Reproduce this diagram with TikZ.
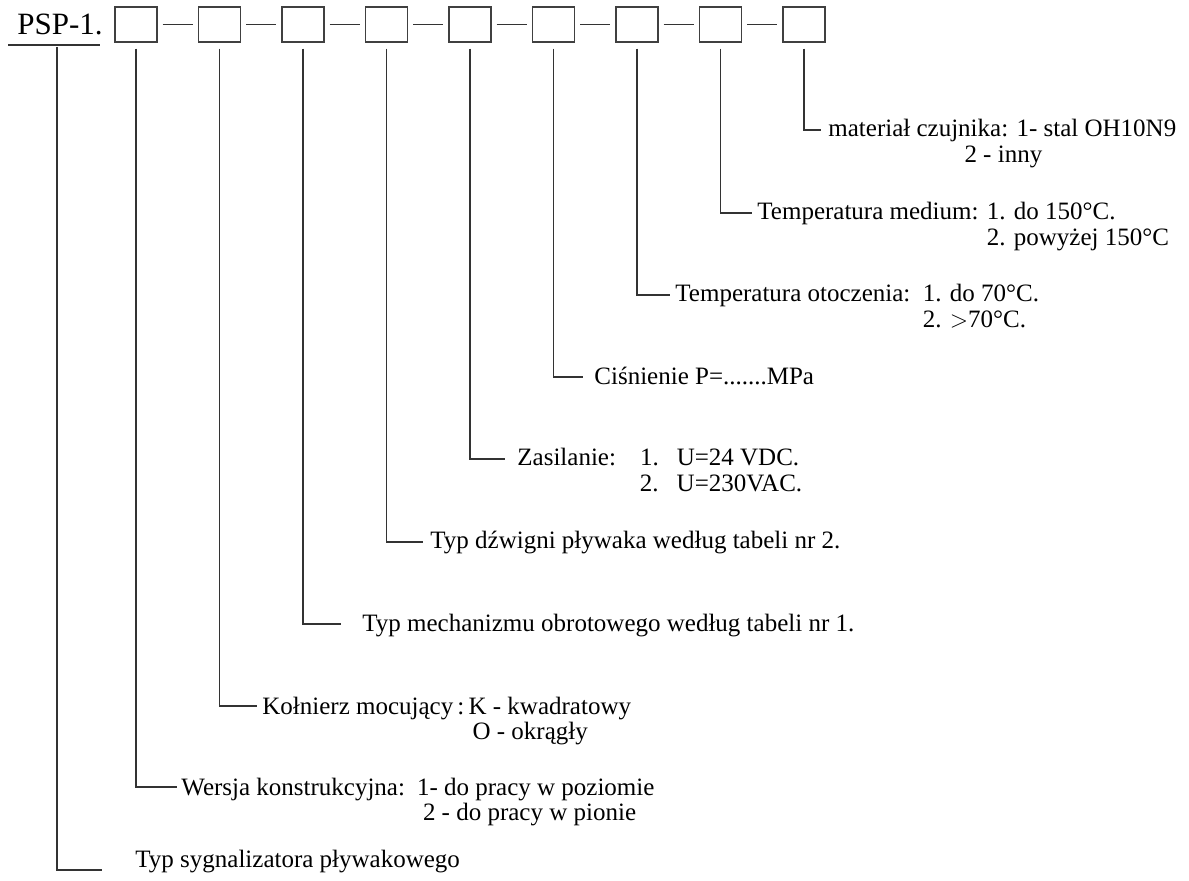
\documentclass[tikz,border=0pt]{standalone}
\usepackage{fontspec}
\setmainfont{Liberation Serif}
\usepackage{tikz}
\usetikzlibrary{positioning}

\begin{document}
\begin{tikzpicture}[
  x=0.5pt, y=-0.5pt,
  font=\fontsize{12.5}{13}\selectfont,
  box/.style={draw=black!75, line width=0.7pt, minimum width=21pt, minimum height=17.5pt, inner sep=0pt},
  lbl/.style={anchor=base west, inner sep=0pt},
  lead/.style={draw=black!80, line width=0.55pt},
  node distance=20.05pt]
\useasboundingbox (0,0) rectangle (1189,881);
% --- code row ---
\node[lbl, font=\fontsize{15.5}{18}\selectfont] (psp) at (17,35) {PSP-1.};
\coordinate (u1) at (8,45);
\coordinate (u2) at (100,45);
\draw[lead] (u1) -- (u2);
\node[box] (b1) at (136,24.5) {};
\node[box, right=of b1] (b2) {};
\node[box, right=of b2] (b3) {};
\node[box, right=of b3] (b4) {};
\node[box, right=of b4] (b5) {};
\node[box, right=of b5] (b6) {};
\node[box, right=of b6] (b7) {};
\node[box, right=of b7] (b8) {};
\node[box, right=of b8] (b9) {};
\draw[lead] ([xshift=2.5pt]b1.east) -- ([xshift=-2.5pt]b2.west);
\draw[lead] ([xshift=2.5pt]b2.east) -- ([xshift=-2.5pt]b3.west);
\draw[lead] ([xshift=2.5pt]b3.east) -- ([xshift=-2.5pt]b4.west);
\draw[lead] ([xshift=2.5pt]b4.east) -- ([xshift=-2.5pt]b5.west);
\draw[lead] ([xshift=2.5pt]b5.east) -- ([xshift=-2.5pt]b6.west);
\draw[lead] ([xshift=2.5pt]b6.east) -- ([xshift=-2.5pt]b7.west);
\draw[lead] ([xshift=2.5pt]b7.east) -- ([xshift=-2.5pt]b8.west);
\draw[lead] ([xshift=2.5pt]b8.east) -- ([xshift=-2.5pt]b9.west);
% --- descriptions ---
\node[lbl] (t9) at (828,137) {materiał czujnika: \begin{tabular}[t]{@{}l@{}}1- stal OH10N9\\\hspace*{-26pt}2 - inny\end{tabular}};
\node[lbl] (t8) at (757,220) {Temperatura medium: \begin{tabular}[t]{@{}l@{}}1. do 150°C.\\2. powyżej 150°C\end{tabular}};
\node[lbl] (t7) at (675,302) {Temperatura otoczenia:\enspace\begin{tabular}[t]{@{}l@{}}1. do 70°C.\\2. $>$70°C.\end{tabular}};
\node[lbl] (t6) at (594,385) {Ciśnienie P=.......MPa};
\node[lbl] (t5) at (517,466) {Zasilanie:\hspace{12pt}\begin{tabular}[t]{@{}l@{\hspace{9pt}}l@{}}1. & U=24 VDC.\\2. & U=230VAC.\end{tabular}};
\node[lbl] (t4) at (430,549) {Typ dźwigni pływaka według tabeli nr 2.};
\node[lbl] (t3) at (362,632) {Typ mechanizmu obrotowego według tabeli nr 1.};
\node[lbl] (t2) at (262,714) {Kołnierz mocujący\,:\,\begin{tabular}[t]{@{}l@{}}K - kwadratowy\\\hspace*{2pt}O - okrągły\end{tabular}};
\node[lbl] (t1) at (181,795) {Wersja konstrukcyjna:\hspace{6pt}\begin{tabular}[t]{@{}l@{}}1- do pracy w poziomie\\\hspace*{3pt}2 - do pracy w pionie\end{tabular}};
\node[lbl] (t0) at (135,867) {Typ sygnalizatora pływakowego};
% --- leaders ---
\coordinate (s0) at (57,47);
\coordinate (e0) at (102,870);
\coordinate (e1) at (177,787);
\coordinate (e2) at (257,706);
\coordinate (e3) at (341,624);
\coordinate (e4) at (423,542);
\coordinate (e5) at (505,459);
\coordinate (e6) at (583,377);
\coordinate (e7) at (670,295);
\coordinate (e8) at (752,213);
\coordinate (e9) at (821,130);
\draw[lead] (s0) |- (e0);
\draw[lead] ([yshift=-3pt]b1.south) |- (e1);
\draw[lead] ([yshift=-3pt]b2.south) |- (e2);
\draw[lead] ([yshift=-3pt]b3.south) |- (e3);
\draw[lead] ([yshift=-3pt]b4.south) |- (e4);
\draw[lead] ([yshift=-3pt]b5.south) |- (e5);
\draw[lead] ([yshift=-3pt]b6.south) |- (e6);
\draw[lead] ([yshift=-3pt]b7.south) |- (e7);
\draw[lead] ([yshift=-3pt]b8.south) |- (e8);
\draw[lead] ([yshift=-3pt]b9.south) |- (e9);
\end{tikzpicture}
\end{document}
